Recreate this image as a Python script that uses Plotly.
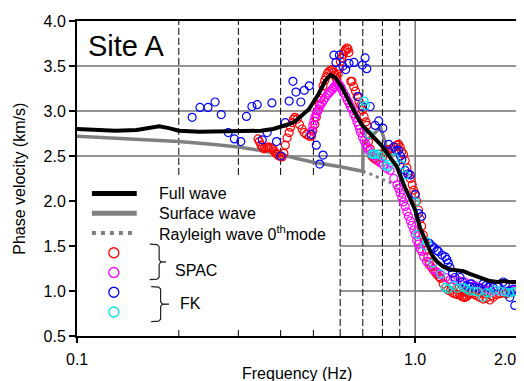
import math
import plotly.graph_objects as go

# ---------------- data ----------------
full_f = [0.10, 0.115, 0.13, 0.15, 0.165, 0.175, 0.187, 0.20, 0.23, 0.27, 0.32, 0.35, 0.38, 0.40,
          0.42, 0.44, 0.455, 0.485, 0.52, 0.543, 0.562, 0.581, 0.608, 0.637, 0.666, 0.697, 0.745,
          0.798, 0.845, 0.883, 0.93, 0.965, 1.0, 1.034, 1.082, 1.12, 1.158, 1.21, 1.268, 1.33,
          1.388, 1.45, 1.518, 1.60, 1.663, 1.75, 1.82, 1.90, 2.0]
full_v = [2.80, 2.79, 2.78, 2.79, 2.81, 2.83, 2.81, 2.78, 2.77, 2.77, 2.77, 2.78, 2.80, 2.82,
          2.85, 2.88, 2.93, 3.02, 3.20, 3.34, 3.40, 3.37, 3.26, 3.10, 2.97, 2.84, 2.72,
          2.61, 2.48, 2.38, 2.16, 2.04, 1.90, 1.70, 1.52, 1.40, 1.33, 1.27, 1.24, 1.23,
          1.22, 1.19, 1.16, 1.13, 1.11, 1.10, 1.11, 1.10, 1.10]

surf_f = [0.10, 0.15, 0.20, 0.25, 0.30, 0.35, 0.40, 0.45, 0.50, 0.60, 0.70, 0.701, 0.79, 0.82, 0.85]
surf_v = [2.72, 2.69, 2.66, 2.63, 2.60, 2.56, 2.52, 2.47, 2.43, 2.38, 2.33, 2.63, 2.82, 2.62, 2.50]

ray_f = [0.70, 0.75, 0.80, 0.85, 0.90]
ray_v = [2.33, 2.29, 2.24, 2.20, 2.15]

spac1_f = [0.343, 0.346, 0.350, 0.353, 0.357, 0.362, 0.366, 0.370, 0.375, 0.380, 0.383, 0.387,
           0.391, 0.395, 0.400, 0.404, 0.409, 0.413, 0.418, 0.424, 0.428, 0.433, 0.437, 0.441,
           0.448, 0.455, 0.463, 0.469, 0.477, 0.486, 0.493, 0.498, 0.505, 0.510, 0.515, 0.520,
           0.525, 0.530, 0.534, 0.540, 0.545, 0.551, 0.556, 0.563, 0.569, 0.574, 0.578, 0.583,
           0.587, 0.592, 0.597, 0.601, 0.607, 0.613, 0.618, 0.622, 0.628, 0.633, 0.637, 0.645,
           0.650, 0.658, 0.666, 0.674, 0.682, 0.690, 0.698, 0.706, 0.715, 0.720, 0.706, 0.720,
           0.728, 0.736, 0.744, 0.752, 0.760, 0.770, 0.786, 0.800, 0.813, 0.830, 0.853, 0.870,
           0.883, 0.893, 0.903, 0.913, 0.923, 0.934, 0.945, 0.956, 0.967, 0.980, 0.990, 1.000,
           1.010, 1.023, 1.034, 1.045, 1.057, 1.070, 1.080, 1.090, 1.100, 1.115, 1.130, 1.145,
           1.158, 1.175, 1.190, 1.210, 1.230, 1.250, 1.270, 1.290, 1.310, 1.330, 1.357, 1.375,
           1.390, 1.405, 1.420, 1.440, 1.470, 1.500, 1.520, 1.550, 1.590, 1.620, 1.663, 1.700,
           1.740, 1.780, 1.820, 1.860, 1.904, 1.950, 1.990, 1.280, 1.320, 1.360, 1.400, 1.450,
           1.500, 1.560, 1.620, 1.680, 0.780, 0.810]
spac1_v = [2.69, 2.66, 2.62, 2.60, 2.58, 2.59, 2.60, 2.60, 2.59, 2.58, 2.55, 2.53,
           2.52, 2.50, 2.50, 2.49, 2.53, 2.62, 2.70, 2.76, 2.82, 2.87, 2.91, 2.93,
           2.91, 2.85, 2.80, 2.76, 2.74, 2.72, 2.72, 2.78, 2.85, 2.93, 3.00, 3.07,
           3.14, 3.20, 3.28, 3.34, 3.38, 3.42, 3.44, 3.45, 3.46, 3.43, 3.40, 3.37,
           3.35, 3.41, 3.47, 3.55, 3.59, 3.63, 3.66, 3.68, 3.70, 3.69, 3.65, 3.33,
           3.33, 3.27, 3.22, 3.16, 3.10, 3.06, 3.01, 2.94, 2.88, 2.84, 2.78, 2.74,
           2.66, 2.58, 2.50, 2.48, 2.47, 2.45, 2.43, 2.48, 2.54, 2.57, 2.58, 2.60,
           2.62, 2.63, 2.60, 2.55, 2.52, 2.45, 2.37, 2.30, 2.25, 2.18, 2.12, 2.08,
           2.00, 1.90, 1.80, 1.72, 1.62, 1.54, 1.45, 1.38, 1.32, 1.27, 1.24, 1.21,
           1.19, 1.16, 1.14, 1.08, 1.04, 1.01, 1.00, 0.98, 0.97, 0.96, 0.96, 0.94,
           0.93, 0.93, 0.94, 0.96, 0.97, 0.96, 0.95, 0.93, 0.91, 0.92, 0.90, 0.93,
           0.96, 0.97, 0.98, 0.97, 0.98, 0.99, 1.00, 1.05, 1.02, 1.00, 0.99, 1.00,
           1.01, 0.98, 0.97, 0.95, 2.52, 2.54]

spac2_f = [0.495, 0.498, 0.502, 0.505, 0.510, 0.515, 0.519, 0.524, 0.530, 0.536, 0.543, 0.550,
           0.556, 0.562, 0.569, 0.574, 0.578, 0.583, 0.587, 0.592, 0.597, 0.602, 0.607, 0.615,
           0.623, 0.630, 0.637, 0.643, 0.650, 0.658, 0.666, 0.673, 0.680, 0.685, 0.690, 0.698,
           0.706, 0.715, 0.722, 0.730, 0.741, 0.753, 0.770, 0.786, 0.805, 0.825, 0.843, 0.864,
           0.883, 0.893, 0.903, 0.913, 0.923, 0.934, 0.945, 0.955, 0.967, 0.978, 0.990, 1.000,
           1.010, 1.023, 1.035, 1.045, 1.060, 1.080, 1.100, 1.130, 1.160, 1.190, 1.230, 1.270,
           1.310, 1.357, 1.400, 1.450, 1.500, 1.550, 1.600, 1.660, 1.720, 1.780, 1.840, 1.900,
           1.950, 1.990]
spac2_v = [2.78, 2.84, 2.89, 2.93, 2.97, 3.00, 3.02, 3.06, 3.09, 3.12, 3.15, 3.18,
           3.20, 3.22, 3.24, 3.26, 3.27, 3.29, 3.31, 3.30, 3.29, 3.27, 3.24, 3.20,
           3.16, 3.12, 3.09, 3.05, 3.02, 2.97, 2.93, 2.88, 2.84, 2.80, 2.76, 2.71,
           2.67, 2.63, 2.59, 2.56, 2.53, 2.50, 2.46, 2.43, 2.40, 2.36, 2.34, 2.25,
           2.18, 2.14, 2.09, 2.04, 1.99, 1.94, 1.88, 1.83, 1.78, 1.73, 1.68, 1.63,
           1.56, 1.52, 1.47, 1.44, 1.38, 1.33, 1.29, 1.24, 1.21, 1.18, 1.15, 1.13,
           1.12, 1.11, 1.10, 1.08, 1.06, 1.04, 1.02, 1.01, 1.00, 1.00, 1.00, 1.00,
           1.01, 1.02]

fk1_f = [0.219, 0.231, 0.244, 0.256, 0.267, 0.280, 0.292, 0.305, 0.317, 0.329, 0.341, 0.353,
         0.365, 0.377, 0.389, 0.401, 0.413, 0.424, 0.435, 0.444, 0.459, 0.470, 0.486, 0.493,
         0.510, 0.522, 0.534, 0.575, 0.583, 0.597, 0.611, 0.623, 0.637, 0.659, 0.679, 0.698,
         0.698, 0.711, 0.719, 0.736, 0.761, 0.780, 0.802, 0.835, 0.864, 0.880, 0.893, 0.905,
         0.913, 0.934, 0.950, 0.967, 1.000, 1.023, 1.045, 1.101, 1.120, 1.138, 1.160, 1.171,
         1.200, 1.226, 1.240, 1.253, 1.267, 1.290, 1.310, 1.357, 1.380, 1.420, 1.450, 1.467,
         1.502, 1.550, 1.589, 1.620, 1.644, 1.700, 1.750, 1.820, 1.850, 1.904, 1.904, 1.950,
         1.970]
fk1_v = [2.93, 3.04, 3.04, 3.10, 2.96, 2.76, 2.69, 2.66, 2.94, 3.05, 3.07, 2.68,
         2.76, 3.09, 2.66, 2.50, 2.87, 3.11, 3.33, 3.21, 3.10, 3.23, 3.28, 2.74,
         2.62, 2.41, 2.51, 3.62, 3.54, 3.62, 3.50, 3.46, 3.53, 3.54, 3.16, 3.51,
         3.05, 3.59, 3.47, 3.05, 2.84, 2.89, 2.81, 2.63, 2.60, 2.56, 2.56, 2.50,
         2.46, 2.34, 2.30, 2.29, 2.07, 1.86, 1.83, 1.53, 1.50, 1.48, 1.45, 1.44,
         1.40, 1.38, 1.35, 1.31, 1.26, 1.20, 1.15, 1.15, 1.10, 1.06, 1.05, 1.08,
         1.04, 1.03, 1.08, 1.06, 1.04, 1.04, 1.05, 1.10, 1.08, 1.00, 0.93, 1.02,
         0.84]

fk2_f = [0.706, 0.712, 0.730, 0.744, 0.753, 0.760, 0.774, 0.797, 0.818, 0.825, 0.835, 0.870,
         0.913, 0.934, 1.000, 1.015, 1.070, 1.080, 1.130, 1.190, 1.227, 1.250, 1.300, 1.330,
         1.388, 1.420, 1.450, 1.490, 1.530, 1.589, 1.620, 1.663, 1.720, 1.780, 1.840, 1.900,
         1.950, 1.990]
fk2_v = [3.11, 3.06, 2.74, 2.52, 2.52, 2.52, 2.52, 2.50, 2.39, 2.49, 2.38, 2.48,
         2.40, 2.29, 1.99, 1.63, 1.50, 1.55, 1.31, 1.19, 1.04, 1.02, 1.06, 1.03,
         1.04, 1.02, 1.00, 1.00, 0.99, 0.93, 0.98, 0.98, 1.01, 1.00, 0.99, 0.98,
         0.99, 1.00]

x_tick_vals = [0.1, 1.0, 2.0]
x_tick_text = ["0.1", "1.0", "2.0"]
dashed_short = [0.2, 0.3, 0.4, 0.5]
dashed_full = [0.6, 0.7, 0.8, 0.9]
grid_full = [3.5, 3.0, 2.5]
grid_part = [2.0, 1.5, 1.0]

FONT = "Liberation Sans, Arial, sans-serif"
# page body has an 8px margin, so the figure is drawn 8px in from the window corner
OFF = 8
W, H = 524 - OFF, 381 - OFF
L, R, T, B = 77 - OFF, 5, 17 - OFF, 45
XMIN, XMAX = 0.1, 2.0
YMIN, YMAX = 0.5, 4.0

# plot area in window pixels: x 77..519, y 17..336
def PX(px):
    return (px - 77) / 442.0


def PY(py):
    return (336 - py) / 319.0


def xp(f):
    return (math.log10(f) - math.log10(XMIN)) / (math.log10(XMAX) - math.log10(XMIN))


fig = go.Figure()

# model lines (under markers)
fig.add_trace(go.Scatter(x=surf_f, y=surf_v, mode="lines",
                         line=dict(color="#808080", width=3.5), hoverinfo="skip"))
fig.add_trace(go.Scatter(x=ray_f, y=ray_v, mode="lines",
                         line=dict(color="#808080", width=3, dash="3px,4px"), hoverinfo="skip"))


def mk(color):
    return dict(symbol="circle-open", size=8, color=color, line=dict(width=1.2, color=color))


fig.add_trace(go.Scatter(x=spac1_f, y=spac1_v, mode="markers", marker=mk("#ff0000")))
fig.add_trace(go.Scatter(x=spac2_f, y=spac2_v, mode="markers", marker=mk("#ff00ff")))
fig.add_trace(go.Scatter(x=fk1_f, y=fk1_v, mode="markers", marker=mk("#0000ff")))
fig.add_trace(go.Scatter(x=fk2_f, y=fk2_v, mode="markers", marker=mk("#00e8e8")))
fig.add_trace(go.Scatter(x=full_f, y=full_v, mode="lines",
                         line=dict(color="#000000", width=4), hoverinfo="skip"))

# ----- custom legend on an overlay [0,1] axis -----
def ov(trace):
    trace.update(xaxis="x2", yaxis="y2", showlegend=False, hoverinfo="skip")
    fig.add_trace(trace)


ov(go.Scatter(x=[PX(92), PX(137)], y=[PY(191.7)] * 2, mode="lines",
              line=dict(color="#000000", width=5)))
ov(go.Scatter(x=[PX(92), PX(137)], y=[PY(211.7)] * 2, mode="lines",
              line=dict(color="#808080", width=5)))
ov(go.Scatter(x=[PX(92), PX(137)], y=[PY(231.7)] * 2, mode="lines",
              line=dict(color="#808080", width=4, dash="4px,5px")))
for py, col in [(251.7, "#ff0000"), (271.7, "#ff00ff"), (291.7, "#0000ff"), (311.7, "#00e8e8")]:
    ov(go.Scatter(x=[PX(114)], y=[PY(py)], mode="markers",
                  marker=dict(symbol="circle-open", size=10, color=col, line=dict(width=1.3, color=col))))


def brace(x0, xv, xt, ytop, ybot):
    ym = (ytop + ybot) / 2
    pts = [(x0, ytop), (xv - 2, ytop + 0.5), (xv, ytop + 2.5), (xv, ym - 2.5), (xv + 1.5, ym - 0.3),
           (xt, ym), (xv + 1.5, ym + 0.3), (xv, ym + 2.5), (xv, ybot - 2.5), (xv - 2, ybot - 0.5), (x0, ybot)]
    ov(go.Scatter(x=[PX(p[0]) for p in pts], y=[PY(p[1]) for p in pts], mode="lines",
                  line=dict(color="#222222", width=1.2)))


brace(150, 159.5, 166.5, 243, 279)
brace(151.5, 161, 169.5, 286, 321.5)

# ----- shapes: grid, dashed lines, ticks -----
GRID = "#2a2a2a"
shapes = []
for y in grid_full:
    shapes.append(dict(type="line", xref="paper", yref="y", x0=0, x1=1, y0=y, y1=y,
                       line=dict(color=GRID, width=1), layer="below"))
for y in grid_part:
    shapes.append(dict(type="line", xref="x", yref="y", x0=0.6, x1=XMAX,
                       y0=y, y1=y, line=dict(color=GRID, width=1), layer="below"))
for f in dashed_short:
    shapes.append(dict(type="line", xref="x", yref="y", x0=f, x1=f,
                       y0=2.29, y1=YMAX, line=dict(color="#000000", width=1, dash="7px,3px"),
                       layer="below"))
    shapes.append(dict(type="line", xref="x", yref="y", x0=f, x1=f,
                       y0=YMIN, y1=YMIN + 0.066, line=dict(color="#000000", width=1)))
for f in dashed_full:
    shapes.append(dict(type="line", xref="x", yref="y", x0=f, x1=f,
                       y0=YMIN, y1=YMAX, line=dict(color="#000000", width=1, dash="7px,3px"),
                       layer="below"))
shapes.append(dict(type="line", xref="x", yref="y", x0=1.0, x1=1.0, y0=YMIN, y1=YMAX,
                   line=dict(color="#707070", width=1.5), layer="below"))

# ----- annotations -----
ann = []
tf = dict(family=FONT, size=16, color="#000000")
for txt, py in [("Full wave", 191.7), ("Surface wave", 211.7),
                ("Rayleigh wave 0<sup>th</sup>mode", 231.7)]:
    ann.append(dict(text=txt, xref="paper", yref="paper", x=PX(157), y=PY(py),
                    xanchor="left", yanchor="middle", showarrow=False, font=tf))
ann.append(dict(text="SPAC", xref="paper", yref="paper", x=PX(197), y=PY(270),
                xanchor="center", yanchor="middle", showarrow=False, font=tf))
ann.append(dict(text="FK", xref="paper", yref="paper", x=PX(191), y=PY(303.3),
                xanchor="center", yanchor="middle", showarrow=False, font=tf))
ann.append(dict(text="Site A", xref="paper", yref="paper", x=PX(86), y=PY(42),
                xanchor="left", yanchor="middle", showarrow=False,
                font=dict(family=FONT, size=29, color="#000000")))
ann.append(dict(text="Frequency (Hz)", xref="paper", yref="paper", x=0.5, y=PY(374),
                xanchor="center", yanchor="middle", showarrow=False, font=tf))
ann.append(dict(text="Phase velocity (km/s)", xref="paper", yref="paper", x=PX(19), y=0.5,
                xanchor="center", yanchor="middle", showarrow=False, textangle=-90, font=tf))
for v, t in zip(x_tick_vals, x_tick_text):
    if v == XMAX:
        ann.append(dict(text=t, xref="paper", yref="paper", x=1.0, xshift=1, y=PY(359.5),
                        xanchor="right", yanchor="middle", showarrow=False, font=tf))
    else:
        ann.append(dict(text=t, xref="paper", yref="paper", x=xp(v), y=PY(359.5),
                        xanchor="center", yanchor="middle", showarrow=False, font=tf))

fig.update_layout(
    width=W, height=H, margin=dict(l=L, r=R, t=T, b=B),
    paper_bgcolor="white", plot_bgcolor="white", showlegend=False,
    font=dict(family=FONT, size=16, color="#000000"),
    xaxis=dict(type="log", range=[math.log10(XMIN), math.log10(XMAX)], showgrid=False,
               zeroline=False, showline=True, linecolor="#000000", linewidth=2, mirror=True,
               ticks="outside", ticklen=5, tickwidth=1.5, tickcolor="#000000",
               tickvals=x_tick_vals, showticklabels=False),
    yaxis=dict(range=[YMIN, YMAX], tick0=0.5, dtick=0.5, tickformat=".1f", showgrid=False,
               zeroline=False, showline=True, linecolor="#000000", linewidth=2, mirror=True,
               ticks="outside", ticklen=6, tickwidth=1.5, tickcolor="#000000",
               tickfont=dict(family=FONT, size=16, color="#000000")),
    xaxis2=dict(overlaying="x", range=[0, 1], visible=False, fixedrange=True),
    yaxis2=dict(overlaying="y", range=[0, 1], visible=False, fixedrange=True),
    shapes=shapes, annotations=ann,
)

fig.write_html("out.html")
